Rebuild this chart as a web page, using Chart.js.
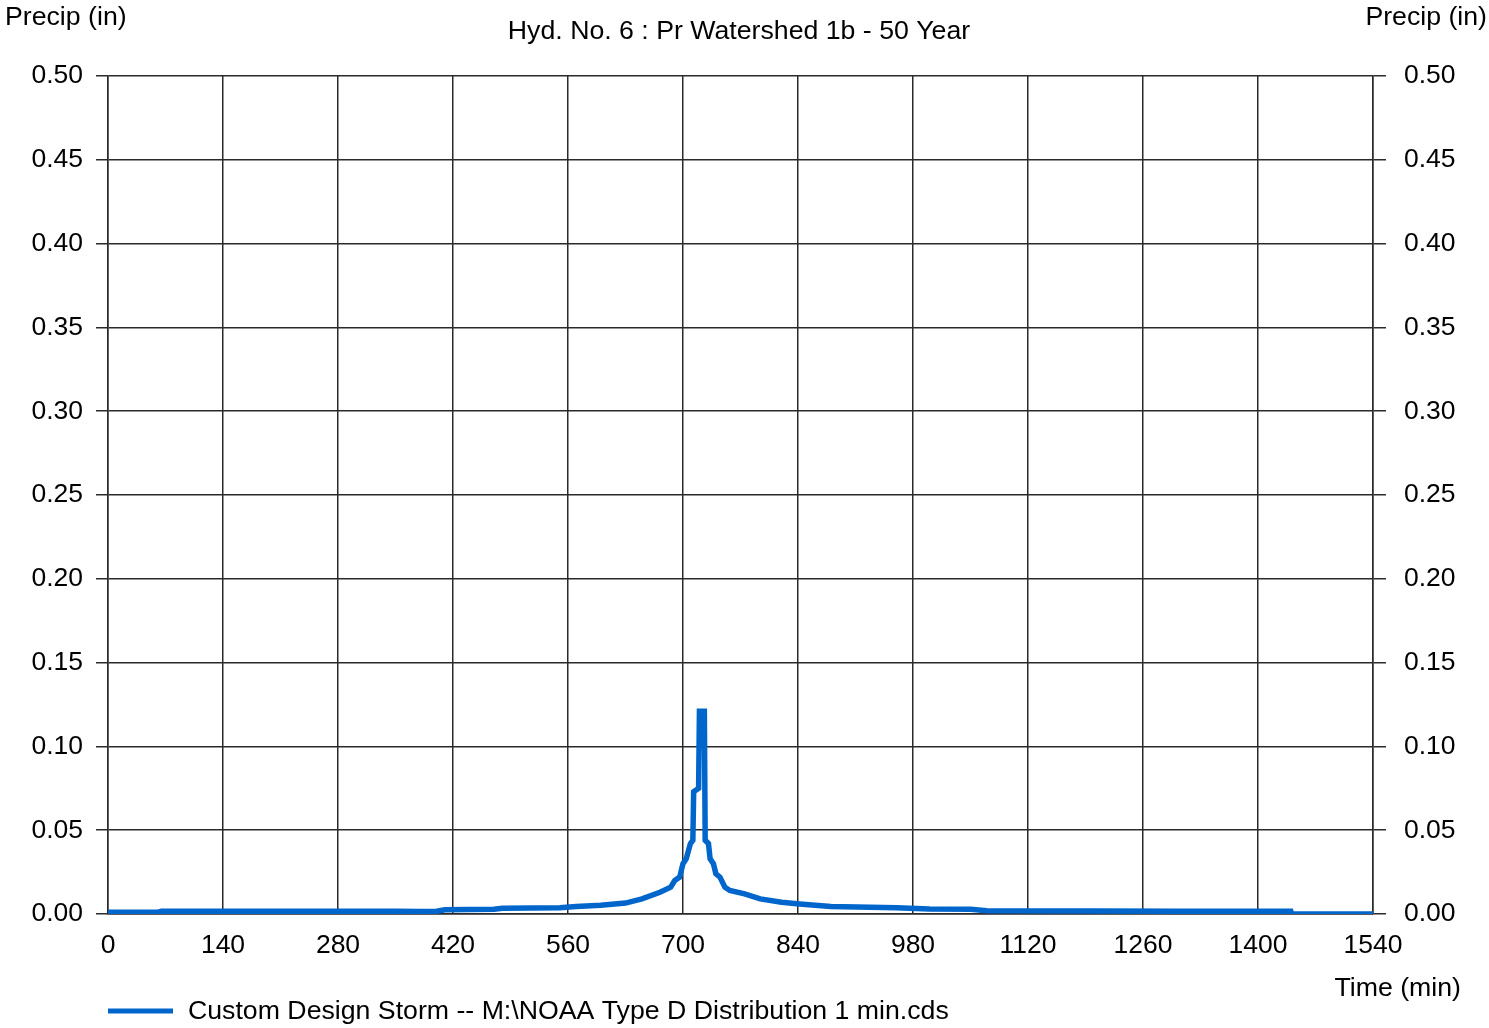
<!DOCTYPE html>
<html>
<head>
<meta charset="utf-8">
<title>Hyd. No. 6</title>
<script src="https://cdn.jsdelivr.net/npm/chart.js@4.4.1/dist/chart.umd.min.js"></script>
<style>
  body { margin: 0; background: #fff; }
  canvas { display: block; }
</style>
</head>
<body>
<canvas id="grafico" width="1489" height="1028"></canvas>
<script>
// tempo (min) e precipitacao (in)
var tempoMin = [0, 60, 65, 350, 380, 400, 410, 470, 480, 550, 570, 600, 630, 650, 672, 685,
  690, 696, 700, 704, 709, 712, 713, 719, 720, 726, 727, 731, 733, 737, 740, 745, 751, 757,
  775, 794, 820, 842, 880, 960, 1000, 1050, 1070, 1200, 1300, 1440, 1441, 1540];
var precipIn = [0.0010, 0.0010, 0.0016, 0.0016, 0.0015, 0.0016, 0.0025, 0.0028, 0.0034, 0.0038,
  0.0045, 0.0052, 0.0065, 0.0090, 0.0130, 0.0160, 0.0200, 0.0220, 0.0300, 0.0330, 0.0420,
  0.0440, 0.0730, 0.0750, 0.1210, 0.1210, 0.0440, 0.0420, 0.0330, 0.0300, 0.0240, 0.0220,
  0.0160, 0.0140, 0.0120, 0.0090, 0.0070, 0.0060, 0.0045, 0.0038, 0.0030, 0.0028, 0.0020,
  0.0018, 0.0017, 0.0016, 0.0000, 0.0000];

var xTicks = [0, 140, 280, 420, 560, 700, 840, 980, 1120, 1260, 1400, 1540];
var yTicks = [0, 0.05, 0.10, 0.15, 0.20, 0.25, 0.30, 0.35, 0.40, 0.45, 0.50];

var subtitulo = "Hyd. No. 6 : Pr Watershed 1b - 50 Year";
var tituloY = "Precip (in)";
var tituloX = "Time (min)";
var legenda = "Custom Design Storm -- M:\\NOAA Type D Distribution 1 min.cds";

var corLinha = "#0066CC";
var corGrade = "#2a2a2a";
var fonte = "'Liberation Sans', Arial, sans-serif";

Chart.defaults.font.family = fonte;
Chart.defaults.font.size = 26.5;
Chart.defaults.color = "#000";

// textos fora da area do grafico
const textosPlugin = {
  id: "textos",
  afterDraw(chart) {
    const ctx = chart.ctx;
    ctx.save();
    ctx.fillStyle = "#000";
    ctx.font = "26.7px " + fonte;
    ctx.textBaseline = "middle";

    ctx.textAlign = "left";
    ctx.fillText(tituloY, 5, 18);
    ctx.textAlign = "right";
    ctx.fillText(tituloY, 1487, 18);

    ctx.textAlign = "center";
    ctx.fillText(subtitulo, 739, 32);

    ctx.textAlign = "right";
    ctx.fillText(tituloX, 1461, 989);

    // legenda
    ctx.strokeStyle = corLinha;
    ctx.lineWidth = 5;
    ctx.beginPath();
    ctx.moveTo(108, 1011);
    ctx.lineTo(173, 1011);
    ctx.stroke();
    ctx.textAlign = "left";
    ctx.fillText(legenda, 188, 1012);
    ctx.restore();
  }
};

const ctx = document.getElementById("grafico");

const data = {
  datasets: [
    {
      label: legenda,
      data: tempoMin.map((t, i) => ({ x: t, y: precipIn[i] })),
      borderColor: corLinha,
      borderWidth: 5.5,
      pointRadius: 0,
      tension: 0,
      fill: false,
      yAxisID: "y",
    },
  ],
};

const options = {
  responsive: false,
  animation: false,
  devicePixelRatio: 1,
  layout: { padding: { top: 76, left: 0, right: 0, bottom: 0 } },
  plugins: {
    legend: { display: false },
    tooltip: { enabled: false },
  },
  scales: {
    x: {
      type: "linear",
      min: 0,
      max: 1540,
      afterBuildTicks: (scale) => { scale.ticks = xTicks.map(v => ({ value: v })); },
      afterFit: (scale) => { scale.height = 114; },
      ticks: { padding: 16, maxRotation: 0, autoSkip: false, callback: (v) => v },
      grid: { color: corGrade, lineWidth: 1.5, drawTicks: false },
      border: { color: corGrade, width: 1.5 },
    },
    y: {
      position: "left",
      min: 0,
      max: 0.5,
      afterBuildTicks: (scale) => { scale.ticks = yTicks.map(v => ({ value: v })); },
      afterFit: (scale) => { scale.width = 108; },
      ticks: { padding: 13, callback: (v) => v.toFixed(2) },
      grid: { color: corGrade, lineWidth: 1.5, tickLength: 12 },
      border: { color: corGrade, width: 1.5 },
    },
    y2: {
      position: "right",
      min: 0,
      max: 0.5,
      afterBuildTicks: (scale) => { scale.ticks = yTicks.map(v => ({ value: v })); },
      afterFit: (scale) => { scale.width = 116; },
      ticks: { padding: 18, callback: (v) => v.toFixed(2) },
      grid: { color: corGrade, lineWidth: 1.5, tickLength: 13, drawOnChartArea: false },
      border: { color: corGrade, width: 1.5 },
    },
  },
};

new Chart(ctx, {
  type: "line",
  data: data,
  options: options,
  plugins: [textosPlugin],
});
</script>
</body>
</html>
